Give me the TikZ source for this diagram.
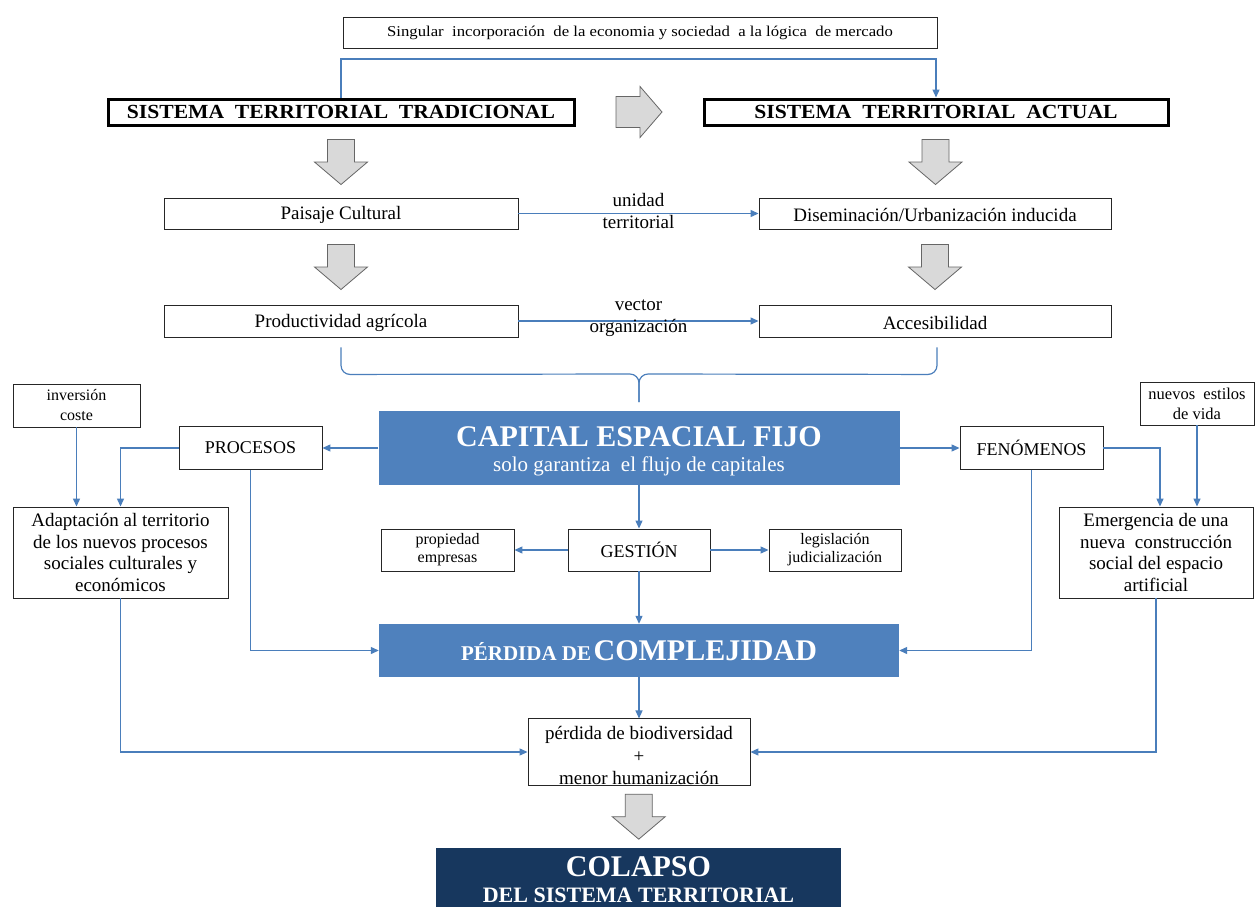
\documentclass[tikz,border=0pt]{standalone}
\usepackage{fontspec}
\setmainfont{Liberation Serif}
\usetikzlibrary{arrows.meta,calc}
\definecolor{linkblue}{HTML}{4A7EBB}
\definecolor{boxblue}{HTML}{4F81BD}
\definecolor{navyblue}{HTML}{17375E}
\definecolor{blockgray}{HTML}{D9D9D9}
\newcommand\fsz[2]{\fontsize{#1}{#2}\selectfont}
\newcommand\lift[1]{\rule{0pt}{#1pt}}
\begin{document}
\begin{tikzpicture}[x=1pt,y=-1pt,
  box/.style={draw=black!85, line width=0.9pt, fill=white, align=center, inner sep=0pt, font=\fsz{19}{22}},
  bigbox/.style={box, draw=black, line width=3pt, font=\bfseries\fsz{20}{24}},
  bluebox/.style={fill=boxblue, text=white, align=center, inner sep=0pt},
  link/.style={draw=linkblue, line width=1.2pt, -{Triangle[length=8pt,width=7pt]}},
  plainlink/.style={draw=linkblue, line width=1.2pt},
  blockarrow/.style={fill=blockgray, draw=black!60, line width=0.8pt, line join=miter},
  dnblock/.pic={\path[blockarrow] (-13.5,-22.5) -- (13.5,-22.5) -- (13.5,0) -- (26.5,0) -- (0,22.5) -- (-26.5,0) -- (-13.5,0) -- cycle;},
  rtblock/.pic={\path[blockarrow] (-23,-15.5) -- (1,-15.5) -- (1,-25.5) -- (23,0) -- (1,25.5) -- (1,15.5) -- (-23,15.5) -- cycle;}
]
\useasboundingbox[fill=white] (0,0) rectangle (1255,907);

% top
\node[box, minimum width=594, minimum height=31, font=\fsz{15}{18}] (top) at (640,32.5)
  {\scalebox{1.115}[1]{Singular\ \ incorporación\ \ de la economia y sociedad\ \ a la lógica\ \ de mercado}};
\node[bigbox, minimum width=466, minimum height=26] (trad) at (341,112)
  {\scalebox{1.08}[1]{SISTEMA\ \ TERRITORIAL\ \ TRADICIONAL}};
\node[bigbox, minimum width=464, minimum height=26] (act) at (936,112)
  {\scalebox{1.08}[1]{SISTEMA\ \ TERRITORIAL\ \ ACTUAL}};
\coordinate (fb) at (640,59);
\draw[link] (trad.north) |- (fb) -| (act.north);
\pic at ($(trad.east)!.5!(act.west)$) {rtblock};

% second / third rows
\node[box, minimum width=354, minimum height=31] (paisaje) at (341,213.5) {\lift{17}Paisaje Cultural};
\node[box, minimum width=352, minimum height=31] (dis) at (935,213.5) {\lift{17}Diseminación/Urbanización inducida};
\node[box, minimum width=354, minimum height=32] (prod) at (341,321) {\lift{17}Productividad agrícola};
\node[box, minimum width=352, minimum height=32] (acc) at (935,321) {\lift{17}Accesibilidad};
\pic at ($(trad.south)!.5!(paisaje.north)$) {dnblock};
\pic at ($(act.south)!.5!(dis.north)$) {dnblock};
\pic at ($(paisaje.south)!.5!(prod.north)$) {dnblock};
\pic at ($(dis.south)!.5!(acc.north)$) {dnblock};
\draw[link] (paisaje) -- node[font=\fsz{19}{22}, align=center, yshift=2.5pt] (lab1) {unidad\\territorial} (dis);
\draw[link] (prod) -- node[font=\fsz{19}{22}, align=center, yshift=2.5pt] (lab2) {vector\\organización} (acc);

% brace
\coordinate (bracetip) at (639,402);
\coordinate (bracemid) at (639,374);
\draw[plainlink, rounded corners=9pt] ($(prod.south)+(0,10)$) -- ($(prod.south)+(0,37)$) -- (bracemid) -- (bracetip);
\draw[plainlink, rounded corners=9pt] ($(acc.south)+(2,10)$) -- ($(acc.south)+(2,37)$) -- (bracemid) -- (bracetip);

% capital row
\node[bluebox, minimum width=521, minimum height=74, font=\fsz{21}{25}] (capital) at (639,448)
  {{\bfseries\fsz{30}{30}\lift{27}CAPITAL ESPACIAL FIJO}\\solo garantiza\ \ el flujo de capitales};
\node[box, minimum width=143, minimum height=43, font=\fsz{18}{21}] (procesos) at (250.5,448) {PROCESOS};
\node[box, minimum width=143, minimum height=43, font=\fsz{18}{21}] (fen) at (1031.5,448) {FENÓMENOS};
\node[box, minimum width=127, minimum height=43, font=\fsz{16}{20}] (inv) at (76.5,405.5) {inversión\\coste};
\node[box, minimum width=114, minimum height=43, font=\fsz{16.5}{20}] (nuevos) at (1197,403.5) {nuevos\ \ estilos\\de vida};
\node[box, minimum width=215, minimum height=91, font=\fsz{19}{21.7}] (adapt) at (120.5,552.5)
  {Adaptación al territorio\\de los nuevos procesos\\sociales culturales y\\económicos};
\node[box, minimum width=194, minimum height=91, font=\fsz{19}{21.7}] (emerg) at (1156,552.5)
  {Emergencia de una\\nueva\ \ construcción\\social del espacio\\artificial};
\draw[link] (capital.west) -- (procesos.east);
\draw[link] (capital.east) -- (fen.west);
\draw[link] (procesos.west) -| (adapt.north);
\draw[link] (inv.south) -- (inv.south |- adapt.north);
\draw[link] (fen.east) -| ($(emerg.north)+(4,0)$);
\draw[link] (nuevos.south) -- (nuevos.south |- emerg.north);

% gestion row
\node[box, minimum width=142, minimum height=42, font=\fsz{18}{21}] (gestion) at (639,550) {GESTIÓN};
\node[box, minimum width=133, minimum height=42, font=\fsz{16}{18}] (prop) at (447.5,550) {propiedad\\empresas};
\node[box, minimum width=132, minimum height=42, font=\fsz{16}{18}] (legis) at (835,550) {legislación\\judicialización};
\draw[link] (capital.south) -- (gestion.north);
\draw[link] (gestion.west) -- (prop.east);
\draw[link] (gestion.east) -- (legis.west);

% perdida
\node[bluebox, minimum width=520, minimum height=53] (perdida) at (639,650.5)
  {\bfseries{\fsz{21}{24}PÉRDIDA DE} {\fsz{30}{30}COMPLEJIDAD}};
\draw[link] (gestion.south) -- (perdida.north);
\draw[link] (procesos.south) |- (perdida.west);
\draw[link] (fen.south) |- (perdida.east);

% bio
\node[box, minimum width=222, minimum height=64, font=\fsz{19}{22.5}] (bio) at (639,752)
  {\lift{21}pérdida de biodiversidad\\+\\menor humanización};
\draw[link] (perdida.south) -- (bio.north);
\draw[link] (adapt.south) |- (bio.west);
\draw[link] (emerg.south) |- (bio.east);

% colapso
\node[fill=navyblue, text=white, align=center, inner sep=0pt, minimum width=405, minimum height=63, font=\bfseries\fsz{22}{26}] (colapso) at (638.5,879.5)
  {{\fsz{30}{30}COLAPSO}\\DEL SISTEMA TERRITORIAL};
\pic at ($(bio.south)!.5!(colapso.north)$) {dnblock};
\end{tikzpicture}
\end{document}
